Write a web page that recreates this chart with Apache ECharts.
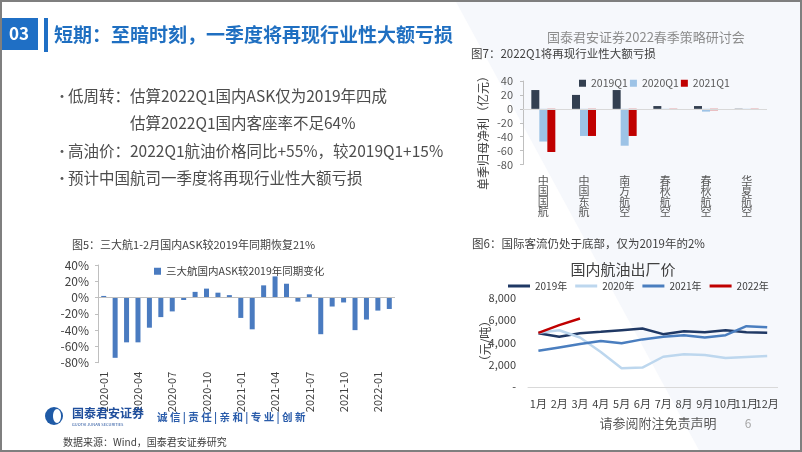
<!DOCTYPE html>
<html>
<head>
<meta charset="utf-8">
<script src="https://cdn.jsdelivr.net/npm/echarts@6/dist/echarts.min.js"></script>
<style>
html,body{margin:0;padding:0;background:#fff;}
#main{width:802px;height:452px;}
</style>
</head>
<body>
<div id="main"></div>
<script>
// ---- Figure 5: domestic ASK change vs 2019 (%) ----
const askMonths = ['2020-01','2020-02','2020-03','2020-04','2020-05','2020-06','2020-07','2020-08','2020-09','2020-10','2020-11','2020-12',
  '2021-01','2021-02','2021-03','2021-04','2021-05','2021-06','2021-07','2021-08','2021-09','2021-10','2021-11','2021-12',
  '2022-01','2022-02'];
const askChange = [2,-74,-55,-55,-37,-24,-17,-3,7,11,6,3,-25,-39,15,26,17,-5,4,-45,-11,-6,-40,-27,-16,-14];

// ---- Figure 7: quarterly net profit (100m yuan) ----
const airlines = ['中国国航','中国东航','南方航空','春秋航空','春秋航空','华夏航空'];
const profit2019Q1 = [27,20,27,4,4,0.3];
const profit2020Q1 = [-47,-39,-53,-1,-4,-0.5];
const profit2021Q1 = [-62,-39,-39,-1.5,-2,-1.5];

// ---- Figure 6: domestic jet fuel ex-factory price (yuan/ton) ----
const fuelMonths = ['1月','2月','3月','4月','5月','6月','7月','8月','9月','10月','11月','12月'];
const fuel2019 = [4830,4510,4830,4960,5110,5260,4750,5020,4930,5110,4930,4870];
const fuel2020 = [4870,5100,4450,3150,1680,1750,2720,2950,2870,2600,2690,2780];
const fuel2021 = [3260,3560,3860,4140,3940,4280,4510,4650,4460,4660,5470,5380];
const fuel2022 = [4870,5560,6160];

const FF = '"Noto Sans CJK SC", "Noto Sans", sans-serif';
const chart = echarts.init(document.getElementById('main'), null, {renderer:'canvas'});

function txt(x, y, text, size, color, opts) {
  opts = opts || {};
  return {
    type:'text', x:x, y:y, rotation: opts.rotation || 0, z: 10,
    style:{ text:text, fill:color, font:(opts.weight||'normal')+' '+size+'px '+FF,
      textAlign: opts.align || 'left', textVerticalAlign:'middle' }
  };
}

const graphics = [
  // background tint
  {type:'polygon', z:-10, shape:{points:[[455,0],[802,0],[802,452],[700,452]]}, style:{fill:'#f6f8fc'}},
  // header
  {type:'rect', shape:{x:0,y:18,width:38,height:32}, style:{fill:'#1f6fc5'}},
  {type:'rect', shape:{x:44,y:18,width:4,height:34}, style:{fill:'#1f6fc5'}},
  txt(19, 34, '03', 17, '#ffffff', {weight:'bold', align:'center'}),
  txt(54, 35, '短期：至暗时刻，一季度将再现行业性大额亏损', 19, '#1f6fc1', {weight:'bold'}),
  txt(547, 37, '国泰君安证券2022春季策略研讨会', 13, '#8c8c8c'),
  // bullets
  txt(55, 96, '•', 14, '#595959'),
  txt(68, 96, '低周转：估算2022Q1国内ASK仅为2019年四成', 15.5, '#4d4d4d'),
  txt(130, 123, '估算2022Q1国内客座率不足64%', 15.5, '#4d4d4d'),
  txt(55, 151, '•', 14, '#595959'),
  txt(68, 151, '高油价：2022Q1航油价格同比+55%，较2019Q1+15%', 15.5, '#4d4d4d'),
  txt(55, 178, '•', 14, '#595959'),
  txt(68, 178, '预计中国航司一季度将再现行业性大额亏损', 15.5, '#4d4d4d'),
  // figure titles
  txt(471, 54, '图7：2022Q1将再现行业性大额亏损', 11.5, '#404040'),
  txt(72, 245, '图5：三大航1-2月国内ASK较2019年同期恢复21%', 11, '#404040'),
  txt(472, 244, '图6：国际客流仍处于底部，仅为2019年的2%', 11.5, '#404040'),
  txt(623, 269, '国内航油出厂价', 15, '#404040', {align:'center'}),
  // axis names
  txt(483, 130, '单季归母净利（亿元）', 12, '#404040', {align:'center', rotation:Math.PI/2}),
  txt(485, 341, '（元/吨）', 12, '#404040', {align:'center', rotation:Math.PI/2}),
  // footer
  {type:'circle', shape:{cx:54, cy:416, r:9}, style:{fill:'#1f5aa6'}},
  {type:'ellipse', shape:{cx:57, cy:416, rx:4, ry:7}, style:{fill:'#ffffff'}},
  txt(72, 413, '国泰君安证券', 12, '#1f4e9c', {weight:'bold'}),
  txt(72, 424, 'GUOTAI JUNAN SECURITIES', 4, '#1f4e9c'),
  txt(157, 417, '诚 信 | 责 任 | 亲 和 | 专 业 | 创 新', 10.5, '#2a5caa', {weight:'bold'}),
  txt(63, 442, '数据来源：Wind，国泰君安证券研究', 10, '#404040'),
  txt(658, 423, '请参阅附注免责声明', 13, '#595959', {align:'center'}),
  txt(748, 423, '6', 12, '#a6a6a6', {align:'center'}),
  // frame
  {type:'rect', z:100, shape:{x:1,y:1,width:800,height:450}, style:{fill:'none', stroke:'#7f7f7f', lineWidth:2}}
];

const zeroLine = (color) => ({
  silent:true, symbol:'none', label:{show:false},
  lineStyle:{color:color, type:'solid', width:1}, data:[{yAxis:0}]
});

const option = {
  animation:false,
  backgroundColor:'#ffffff',
  textStyle:{fontFamily:FF},
  graphic: graphics,
  grid:[
    {left:98, right:802-395, top:265, bottom:452-362.7},
    {left:523, right:802-767, top:81, bottom:452-164.5},
    {left:528, right:802-777.6, top:298, bottom:452-387}
  ],
  legend:[
    {left:149, top:261, icon:'rect', itemWidth:7, itemHeight:7, itemGap:10,
     textStyle:{fontSize:10.5, color:'#404040', fontFamily:FF}, data:['三大航国内ASK较2019年同期变化']},
    {left:574, top:73, icon:'rect', itemWidth:7, itemHeight:7, itemGap:2,
     textStyle:{fontSize:10.5, color:'#595959', fontFamily:FF}, data:['2019Q1','2020Q1','2021Q1']},
    {left:503, top:276, icon:'rect', itemWidth:22, itemHeight:3, itemGap:8,
     textStyle:{fontSize:10, color:'#404040', fontFamily:FF}, data:['2019年','2020年','2021年','2022年']}
  ],
  xAxis:[
    {gridIndex:0, type:'category', data:askMonths,
     axisLine:{show:false, onZero:false}, axisTick:{show:false},
     axisLabel:{interval:2, rotate:90, fontSize:11, color:'#404040', margin:9}},
    {gridIndex:1, type:'category', data:airlines,
     axisLine:{show:false, onZero:false}, axisTick:{show:false},
     axisLabel:{interval:0, fontSize:11, lineHeight:10.5, color:'#595959', margin:11,
       formatter:(v)=>v.split('').join('\n')}},
    {gridIndex:2, type:'category', data:fuelMonths,
     axisLine:{show:true, lineStyle:{color:'#d9d9d9'}}, axisTick:{show:false},
     axisLabel:{interval:0, fontSize:11, color:'#404040', margin:11}}
  ],
  yAxis:[
    {gridIndex:0, type:'value', min:-80, max:40, interval:20,
     axisLine:{show:true, lineStyle:{color:'#bfbfbf'}}, axisTick:{show:true, length:3, lineStyle:{color:'#bfbfbf'}},
     splitLine:{show:false},
     axisLabel:{fontSize:12, color:'#404040', margin:9, formatter:(v)=>v+'%'}},
    {gridIndex:1, type:'value', min:-80, max:40, interval:20,
     axisLine:{show:true, lineStyle:{color:'#bfbfbf'}}, axisTick:{show:true, length:3, lineStyle:{color:'#bfbfbf'}},
     splitLine:{show:false},
     axisLabel:{fontSize:11, color:'#595959', margin:10}},
    {gridIndex:2, type:'value', min:0, max:8000, interval:2000,
     axisLine:{show:false}, axisTick:{show:false}, splitLine:{show:false},
     axisLabel:{fontSize:11, color:'#404040', margin:12,
       formatter:(v)=> v===0 ? '-' : v.toLocaleString('en-US')}}
  ],
  series:[
    {name:'三大航国内ASK较2019年同期变化', type:'bar', xAxisIndex:0, yAxisIndex:0, data:askChange,
     barWidth:5, itemStyle:{color:'#4a7bc0'}, markLine:zeroLine('#bfbfbf')},
    {name:'2019Q1', type:'bar', xAxisIndex:1, yAxisIndex:1, data:profit2019Q1, barWidth:8, barGap:'0%',
     itemStyle:{color:'#333f50'}, markLine:zeroLine('#d9d9d9')},
    {name:'2020Q1', type:'bar', xAxisIndex:1, yAxisIndex:1, data:profit2020Q1, barWidth:8, barGap:'0%',
     itemStyle:{color:'#9dc3e6'}},
    {name:'2021Q1', type:'bar', xAxisIndex:1, yAxisIndex:1, data:profit2021Q1, barWidth:8, barGap:'0%',
     itemStyle:{color:'#c00000'}},
    {name:'2019年', type:'line', xAxisIndex:2, yAxisIndex:2, data:fuel2019, symbol:'none',
     lineStyle:{color:'#1f3864', width:2.5}, itemStyle:{color:'#1f3864'}},
    {name:'2020年', type:'line', xAxisIndex:2, yAxisIndex:2, data:fuel2020, symbol:'none',
     lineStyle:{color:'#bdd7ee', width:2.5}, itemStyle:{color:'#bdd7ee'}},
    {name:'2021年', type:'line', xAxisIndex:2, yAxisIndex:2, data:fuel2021, symbol:'none',
     lineStyle:{color:'#4a7ebf', width:2.5}, itemStyle:{color:'#4a7ebf'}},
    {name:'2022年', type:'line', xAxisIndex:2, yAxisIndex:2, data:fuel2022, symbol:'none',
     lineStyle:{color:'#c00000', width:2.5}, itemStyle:{color:'#c00000'}}
  ]
};
chart.setOption(option);
</script>
</body>
</html>
